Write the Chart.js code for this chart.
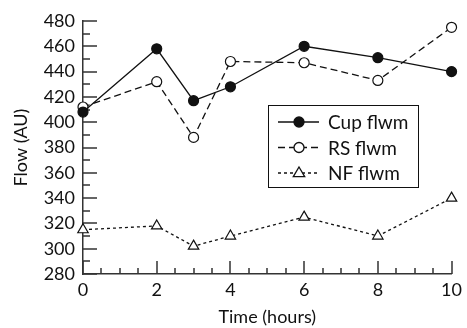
<!DOCTYPE html>
<html>
<head>
<meta charset="utf-8">
<script src="https://cdn.jsdelivr.net/npm/chart.js@4/dist/chart.umd.min.js"></script>
<style>
  html, body { margin: 0; padding: 0; background: #fff; }
  #wrap { width: 467px; height: 328px; }
</style>
</head>
<body>
<div id="wrap"><canvas id="flowChart" width="467" height="328"></canvas></div>
<script>
// Flow over time for the three flwm types.
var hours = [0, 2, 3, 4, 6, 8, 10];
var cupFlwm = [408, 458, 417, 428, 460, 451, 440];
var rsFlwm = [412, 432, 388, 448, 447, 433, 475];
var nfFlwm = [315, 318, 302, 310, 325, 310, 340];
var seriesNames = ['Cup flwm', 'RS flwm', 'NF flwm'];

var yMin = 280, yMax = 480, yStep = 20, yMinor = 10;
var xMin = 0, xMax = 10, xStep = 2, xMinor = 0.5;

var font = 'Lato, "DejaVu Sans", sans-serif';
var ink = '#111';

function pts(ys) {
  return hours.map(function (h, i) { return { x: h, y: ys[i] }; });
}

// Ticks point inward in the original, so draw them ourselves from the scales.
var inwardTicks = {
  id: 'inwardTicks',
  beforeDatasetsDraw: function (chart) {
    var ctx = chart.ctx, a = chart.chartArea, x = chart.scales.x, y = chart.scales.y;
    ctx.save();
    ctx.strokeStyle = '#333';
    ctx.lineWidth = 1.5;
    ctx.beginPath();
    for (var v = yMin; v <= yMax; v += yMinor) {
      var py = Math.round(y.getPixelForValue(v));
      var len = (v % yStep === 0) ? 14 : 7;
      ctx.moveTo(a.left, py);
      ctx.lineTo(a.left + len, py);
    }
    for (var h = xMin; h <= xMax + 1e-9; h += xMinor) {
      var px = Math.round(x.getPixelForValue(h));
      var l = (Math.abs(h % xStep) < 1e-9) ? 13 : 6;
      ctx.moveTo(px, a.bottom);
      ctx.lineTo(px, a.bottom - l);
    }
    ctx.stroke();
    ctx.restore();
  }
};

function drawMarker(ctx, style, fill, cx, cy, r) {
  ctx.beginPath();
  if (style === 'triangle') {
    ctx.moveTo(cx, cy - r);
    ctx.lineTo(cx + r * 0.95, cy + r * 0.6);
    ctx.lineTo(cx - r * 0.95, cy + r * 0.6);
    ctx.closePath();
  } else {
    ctx.arc(cx, cy, r, 0, Math.PI * 2);
  }
  ctx.fillStyle = fill;
  ctx.fill();
  ctx.stroke();
}

// Boxed legend inside the plot, each entry showing line style + marker.
var boxLegend = {
  id: 'boxLegend',
  afterDraw: function (chart) {
    var ctx = chart.ctx, a = chart.chartArea;
    var bx = Math.round(a.right - 184), by = Math.round(a.top + 84), bw = 150, bh = 82;
    ctx.save();
    ctx.fillStyle = '#fff';
    ctx.fillRect(bx, by, bw, bh);
    ctx.strokeStyle = ink;
    ctx.lineWidth = 1;
    ctx.strokeRect(bx + 0.5, by + 0.5, bw, bh);
    chart.data.datasets.forEach(function (ds, i) {
      var cy = by + 17 + i * 25.5;
      ctx.strokeStyle = ink;
      ctx.lineWidth = 1.3;
      ctx.setLineDash(ds.borderDash || []);
      ctx.beginPath();
      ctx.moveTo(bx + 10, cy);
      ctx.lineTo(bx + 51, cy);
      ctx.stroke();
      ctx.setLineDash([]);
      drawMarker(ctx, ds.pointStyle, ds.pointBackgroundColor, bx + 31, cy, ds.pointStyle === 'triangle' ? 6 : 5);
      ctx.fillStyle = ink;
      ctx.font = '19px ' + font;
      ctx.textBaseline = 'middle';
      ctx.fillText(ds.label, bx + 60, cy + 1);
    });
    ctx.restore();
  }
};

function series(label, ys, fill, style, dash) {
  return {
    label: label,
    data: pts(ys),
    borderColor: ink,
    borderWidth: 1.3,
    borderDash: dash,
    pointStyle: style,
    pointRadius: style === 'triangle' ? 6 : 5,
    pointBackgroundColor: fill,
    pointBorderColor: ink,
    pointBorderWidth: 1.2,
    tension: 0,
    clip: false
  };
}

new Chart(document.getElementById('flowChart'), {
  type: 'line',
  data: {
    datasets: [
      series(seriesNames[0], cupFlwm, ink, 'circle', []),
      series(seriesNames[1], rsFlwm, '#fff', 'circle', [7, 4]),
      series(seriesNames[2], nfFlwm, '#fff', 'triangle', [3, 3])
    ]
  },
  options: {
    responsive: false,
    animation: false,
    layout: { padding: { top: 21, right: 11, left: 0, bottom: 0 } },
    plugins: { legend: { display: false }, tooltip: { enabled: false } },
    scales: {
      x: {
        type: 'linear',
        min: xMin, max: xMax,
        afterFit: function (s) { s.height = 54; },
        grid: { display: false, drawTicks: false },
        border: { display: true, color: '#333', width: 1.5 },
        ticks: { stepSize: xStep, color: ink, padding: 5, font: { family: font, size: 18 } },
        title: { display: true, text: 'Time (hours)', color: ink, padding: { top: 0, bottom: 0 }, font: { family: font, size: 18 } }
      },
      y: {
        min: yMin, max: yMax,
        afterFit: function (s) { s.width = 83; },
        grid: { display: false, drawTicks: false },
        border: { display: true, color: '#333', width: 1.5 },
        ticks: { stepSize: yStep, color: ink, padding: 8, font: { family: font, size: 18 } },
        title: { display: true, text: 'Flow (AU)', color: ink, padding: { top: 10, bottom: 0 }, font: { family: font, size: 18 } }
      }
    }
  },
  plugins: [inwardTicks, boxLegend]
});
</script>
</body>
</html>
